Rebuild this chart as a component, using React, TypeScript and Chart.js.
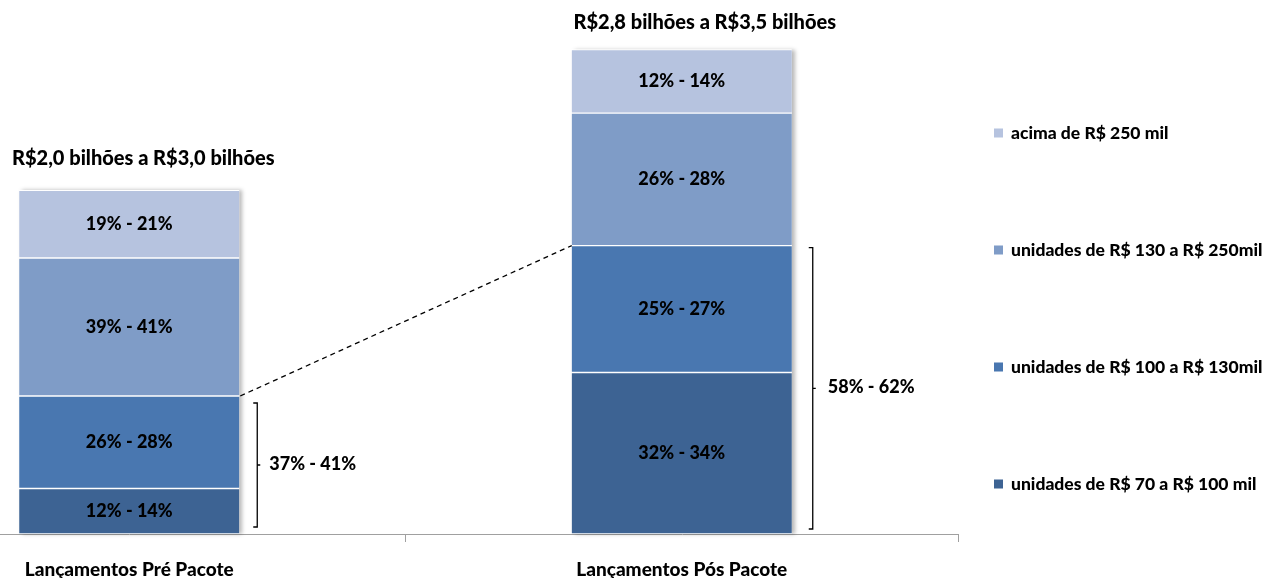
import React, { useEffect, useRef } from "react";
import { Chart, registerables } from "chart.js";

Chart.register(...registerables);

// ---- data ----
const categories = ["Lançamentos Pré Pacote", "Lançamentos Pós Pacote"];
const totalLabels = ["R$2,0 bilhões a R$3,0 bilhões", "R$2,8 bilhões a R$3,5 bilhões"];
const seriesNames = [
  "unidades de R$ 70 a R$ 100 mil",
  "unidades de R$ 100 a R$ 130mil",
  "unidades de R$ 130 a R$ 250mil",
  "acima de R$ 250 mil",
];
// segment sizes (R$ bilhões)
const s70a100 = [0.33, 1.17];
const s100a130 = [0.67, 0.92];
const s130a250 = [1.0, 0.96];
const sAcima250 = [0.49, 0.46];
// segment share labels
const lbl70a100 = ["12% - 14%", "32% - 34%"];
const lbl100a130 = ["26% - 28%", "25% - 27%"];
const lbl130a250 = ["39% - 41%", "26% - 28%"];
const lblAcima250 = ["19% - 21%", "12% - 14%"];
const bracketLabels = ["37% - 41%", "58% - 62%"];

// ---- style ----
const COLORS = ["#3d6393", "#4977b0", "#7f9cc7", "#b6c3df"];
const FONT = "Lato, 'Open Sans', sans-serif";
const W = "900";
const CANVAS_LEFT = -147;
const CANVAS_W = 1416;
const CANVAS_H = 600;
const Y_MAX = 3.8;
const TITLE_DX = [14, 23];
const TITLE_DY = [32, 27];
const BRACKET_GAP = [18, 21];
const BRACKET_IN_TOP = [7, 2];
const BRACKET_IN_BOT = [7, 5];
const BRACKET_TXT_DX = [12, 15];
const LEGEND_DX = 36;
const LEGEND_TOP = 133;
const LEGEND_STEP = 117;

const overlayPlugin = {
  id: "overlay",
  beforeDatasetsDraw(chart: any) {
    const ctx = chart.ctx;
    const topMeta = chart.getDatasetMeta(3);
    ctx.save();
    topMeta.data.forEach((el: any, i: number) => {
      const base = chart.getDatasetMeta(0).data[i].base;
      ctx.save();
      ctx.shadowColor = "rgba(0,0,0,0.28)";
      ctx.shadowBlur = 4;
      ctx.shadowOffsetX = 3;
      ctx.shadowOffsetY = 0;
      ctx.fillStyle = "#ffffff";
      ctx.fillRect(el.x - el.width / 2, el.y, el.width, base - el.y);
      ctx.restore();
    });
    ctx.restore();
  },
  afterDatasetsDraw(chart: any) {
    const ctx = chart.ctx;
    const segLabels = [lbl70a100, lbl100a130, lbl130a250, lblAcima250];
    ctx.save();
    ctx.fillStyle = "#000";
    ctx.textAlign = "center";
    ctx.textBaseline = "middle";
    ctx.font = `${W} 18px ${FONT}`;
    segLabels.forEach((arr, d) => {
      chart.getDatasetMeta(d).data.forEach((el: any, i: number) => {
        ctx.fillText(arr[i], el.x, (el.y + el.base) / 2);
      });
    });
    // totals above bars
    ctx.font = `${W} 20px ${FONT}`;
    chart.getDatasetMeta(3).data.forEach((el: any, i: number) => {
      ctx.fillText(totalLabels[i], el.x + TITLE_DX[i], el.y - TITLE_DY[i]);
    });
    // dashed connector
    const a = chart.getDatasetMeta(1).data[0];
    const b = chart.getDatasetMeta(1).data[1];
    ctx.beginPath();
    ctx.setLineDash([5, 4]);
    ctx.lineWidth = 1.3;
    ctx.strokeStyle = "#000";
    ctx.moveTo(a.x + a.width / 2 + 1, a.y);
    ctx.lineTo(b.x - b.width / 2, b.y);
    ctx.stroke();
    ctx.setLineDash([]);
    // brackets
    ctx.lineWidth = 1.3;
    ctx.textAlign = "left";
    ctx.font = `${W} 18px ${FONT}`;
    [0, 1].forEach((i) => {
      const up = chart.getDatasetMeta(1).data[i];
      const low = chart.getDatasetMeta(0).data[i];
      const x = up.x + up.width / 2 + BRACKET_GAP[i];
      const t = up.y + BRACKET_IN_TOP[i];
      const bt = low.base - BRACKET_IN_BOT[i];
      const m = (t + bt) / 2;
      ctx.beginPath();
      ctx.moveTo(x - 4, t);
      ctx.lineTo(x, t);
      ctx.lineTo(x, bt);
      ctx.lineTo(x - 4, bt);
      ctx.moveTo(x, m);
      ctx.lineTo(x + 3, m);
      ctx.stroke();
      ctx.fillText(bracketLabels[i], x + BRACKET_TXT_DX[i], m - 1);
    });
    ctx.restore();
  },
  afterDraw(chart: any) {
    const ctx = chart.ctx;
    const x0 = chart.chartArea.right + LEGEND_DX;
    ctx.save();
    ctx.font = `${W} 17.5px ${FONT}`;
    ctx.textAlign = "left";
    ctx.textBaseline = "middle";
    for (let k = 0; k < 4; k++) {
      const d = 3 - k;
      const y = LEGEND_TOP + k * LEGEND_STEP;
      ctx.fillStyle = COLORS[d];
      ctx.fillRect(x0, y - 4.5, 9, 9);
      ctx.fillStyle = "#000";
      ctx.fillText(seriesNames[d], x0 + 17, y);
    }
    ctx.restore();
  },
};

export default function App() {
  const ref = useRef<HTMLCanvasElement | null>(null);
  useEffect(() => {
    if (!ref.current) return;
    const values = [s70a100, s100a130, s130a250, sAcima250];
    const chart = new Chart(ref.current, {
      type: "bar",
      data: {
        labels: categories,
        datasets: values.map((v, d) => ({
          label: seriesNames[d],
          data: v,
          backgroundColor: COLORS[d],
          borderColor: "#ffffff",
          borderWidth: { top: 1, bottom: 1, left: 0, right: 0 },
          borderSkipped: false,
          barThickness: 220,
        })),
      },
      options: {
        responsive: false,
        animation: false,
        layout: { padding: { left: 0, right: 311, top: 534 - Y_MAX * 138, bottom: 3.2 } },
        plugins: { legend: { display: false }, tooltip: { enabled: false } },
        scales: {
          x: {
            stacked: true,
            offset: true,
            grid: {
              display: true,
              offset: true,
              drawOnChartArea: false,
              drawTicks: true,
              tickLength: 8,
              color: "#a0a0a0",
            },
            border: { display: true, color: "#a0a0a0", width: 1 },
            ticks: {
              color: "#000",
              padding: 16,
              font: { family: FONT, size: 19, weight: W },
              maxRotation: 0,
            },
          },
          y: { stacked: true, display: false, min: 0, max: Y_MAX },
        },
      },
      plugins: [overlayPlugin],
    });
    return () => chart.destroy();
  }, []);
  return (
    <div
      style={{
        position: "fixed",
        left: 0,
        top: 0,
        width: 1269,
        height: 578,
        overflow: "hidden",
        background: "#fff",
      }}
    >
      <canvas
        ref={ref}
        width={CANVAS_W}
        height={CANVAS_H}
        style={{ position: "absolute", left: CANVAS_LEFT, top: 0, width: CANVAS_W, height: CANVAS_H }}
      />
    </div>
  );
}
